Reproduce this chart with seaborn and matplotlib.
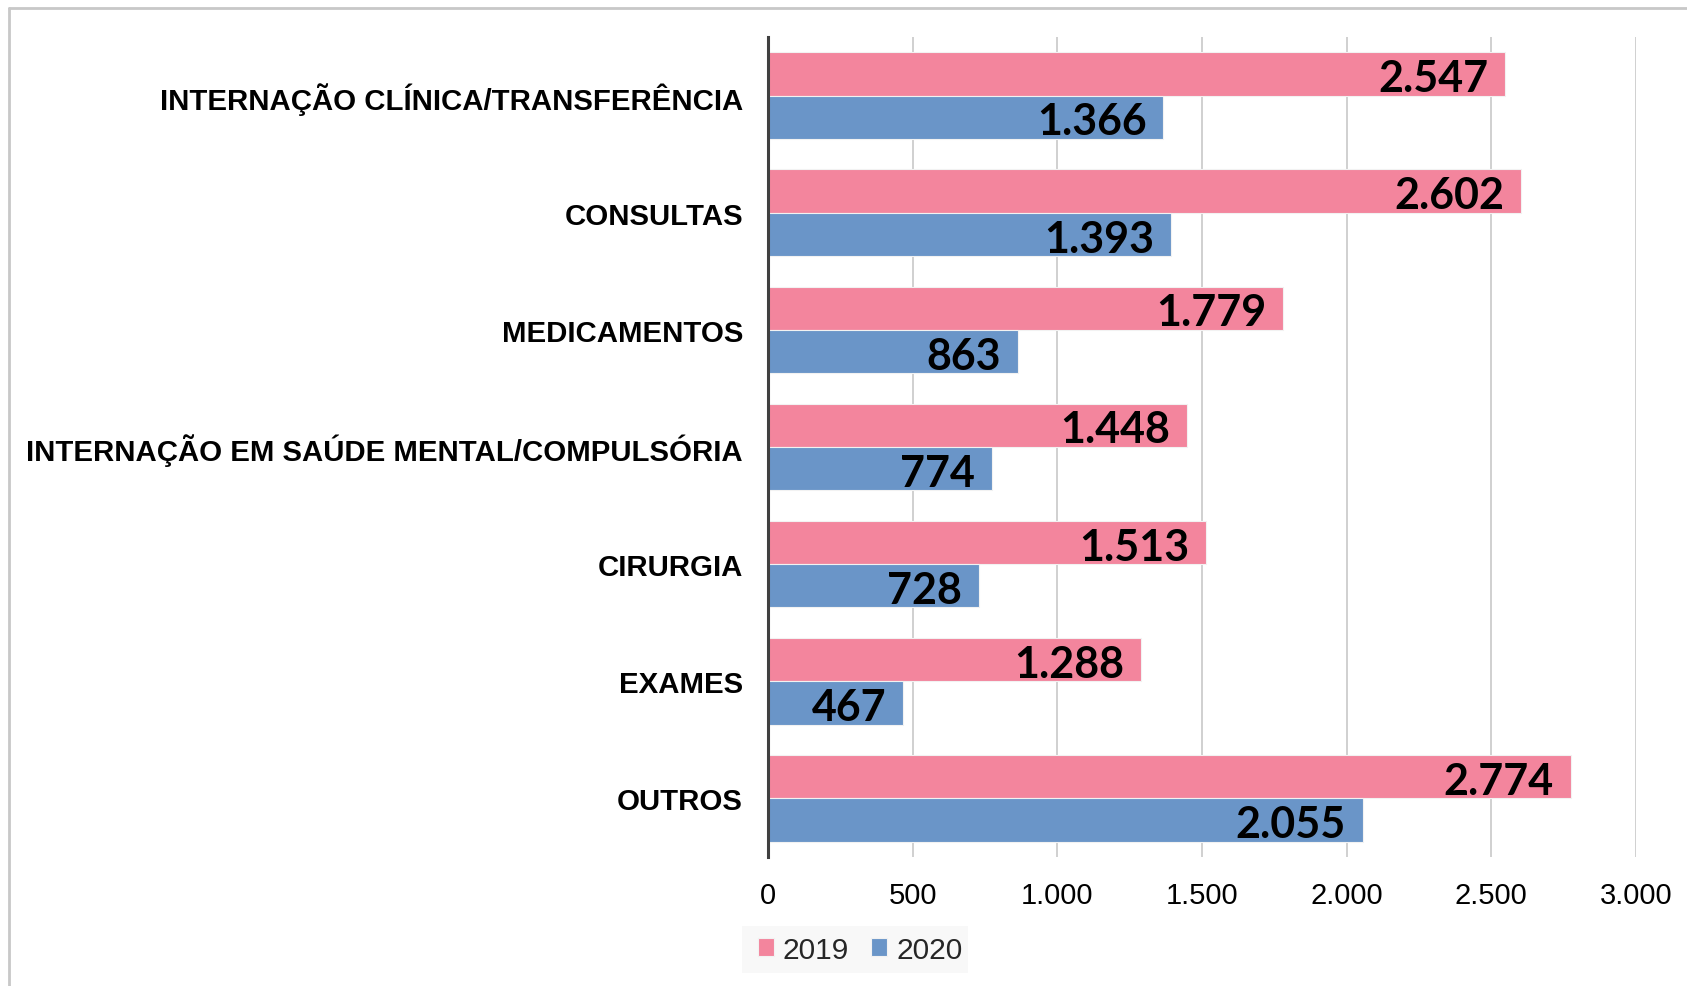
import matplotlib
matplotlib.use("Agg")
import matplotlib.pyplot as plt
from matplotlib.lines import Line2D
from matplotlib.patches import Rectangle
import seaborn as sns
import pandas as pd

categories = ["INTERNAÇÃO CLÍNICA/TRANSFERÊNCIA", "CONSULTAS", "MEDICAMENTOS",
              "INTERNAÇÃO EM SAÚDE MENTAL/COMPULSÓRIA", "CIRURGIA", "EXAMES", "OUTROS"]
years = ["2019", "2020"]
values_2019 = [2547, 2602, 1779, 1448, 1513, 1288, 2774]
values_2020 = [1366, 1393, 863, 774, 728, 467, 2055]
x_ticks = [0, 500, 1000, 1500, 2000, 2500, 3000]
x_tick_labels = ["0", "500", "1.000", "1.500", "2.000", "2.500", "3.000"]

colors = {"2019": "#F3859D", "2020": "#6A95C8"}

df = pd.DataFrame({
    "categoria": categories * 2,
    "ano": ["2019"] * len(categories) + ["2020"] * len(categories),
    "valor": values_2019 + values_2020,
})

sns.set_theme(style="white")
plt.rcParams["font.family"] = ["Liberation Sans", "DejaVu Sans"]

W, H = 1687, 987
fig = plt.figure(figsize=(W / 100, H / 100), dpi=100)
ax = fig.add_axes([768 / W, 1 - 858 / H, (1636 - 768) / W, (858 - 38) / H])

sns.barplot(data=df, y="categoria", x="valor", hue="ano", order=categories,
            hue_order=years, palette=colors, saturation=1, orient="h", width=0.74,
            edgecolor="#F2F2F2", linewidth=0.8, ax=ax, legend=True, zorder=2)

ax.set_xlim(0, 3000)
ax.set_ylim(len(categories) - 0.5, -0.5)
ax.set_xticks(x_ticks)
ax.set_xticklabels(x_tick_labels, fontsize=21, color="#000000")
ax.tick_params(axis="x", length=0, pad=17)
ax.tick_params(axis="y", length=0, pad=18)
for lbl in ax.get_yticklabels():
    lbl.set_fontsize(21.2)
    lbl.set_fontweight("bold")
    lbl.set_color("#000000")
ax.set_xlabel("")
ax.set_ylabel("")
ax.grid(axis="x", color="#C8C8C8", linewidth=1.2, zorder=0)
ax.grid(axis="y", visible=False)
for s in ["top", "right", "bottom"]:
    ax.spines[s].set_visible(False)
ax.spines["left"].set_color("#404040")
ax.spines["left"].set_linewidth(2.2)
ax.spines["left"].set_zorder(5)

for container, vals in zip(ax.containers, [values_2019, values_2020]):
    labels = [f"{v:,}".replace(",", ".") for v in vals]
    texts = ax.bar_label(container, labels=labels, padding=-12, label_type="edge",
                         fontsize=31, fontweight="bold", family=["Lato", "DejaVu Sans"],
                         color="#000000")
    for t in texts:
        t.set_horizontalalignment("right")
        t.xyann = (t.xyann[0], -3)

fig.add_artist(Rectangle((742 / W, 1 - 974 / H), (968 - 742) / W, (974 - 927) / H,
                         transform=fig.transFigure, facecolor="#F8F8F8",
                         edgecolor="none", zorder=0))
leg = ax.legend(loc="center", bbox_to_anchor=(860 / W, 1 - 951 / H),
                bbox_transform=fig.transFigure, ncol=2, frameon=False,
                fontsize=21.5, handlelength=0.55, handleheight=0.55,
                handletextpad=0.3, columnspacing=0.72, borderpad=0.2)

fig.add_artist(Line2D([9 / W, 9 / W], [0, 1 - 9 / H], transform=fig.transFigure,
                      color="#C8C8C8", linewidth=2))
fig.add_artist(Line2D([9 / W, 1], [1 - 9 / H, 1 - 9 / H], transform=fig.transFigure,
                      color="#C8C8C8", linewidth=2))

fig.savefig("out.png", dpi=100)
